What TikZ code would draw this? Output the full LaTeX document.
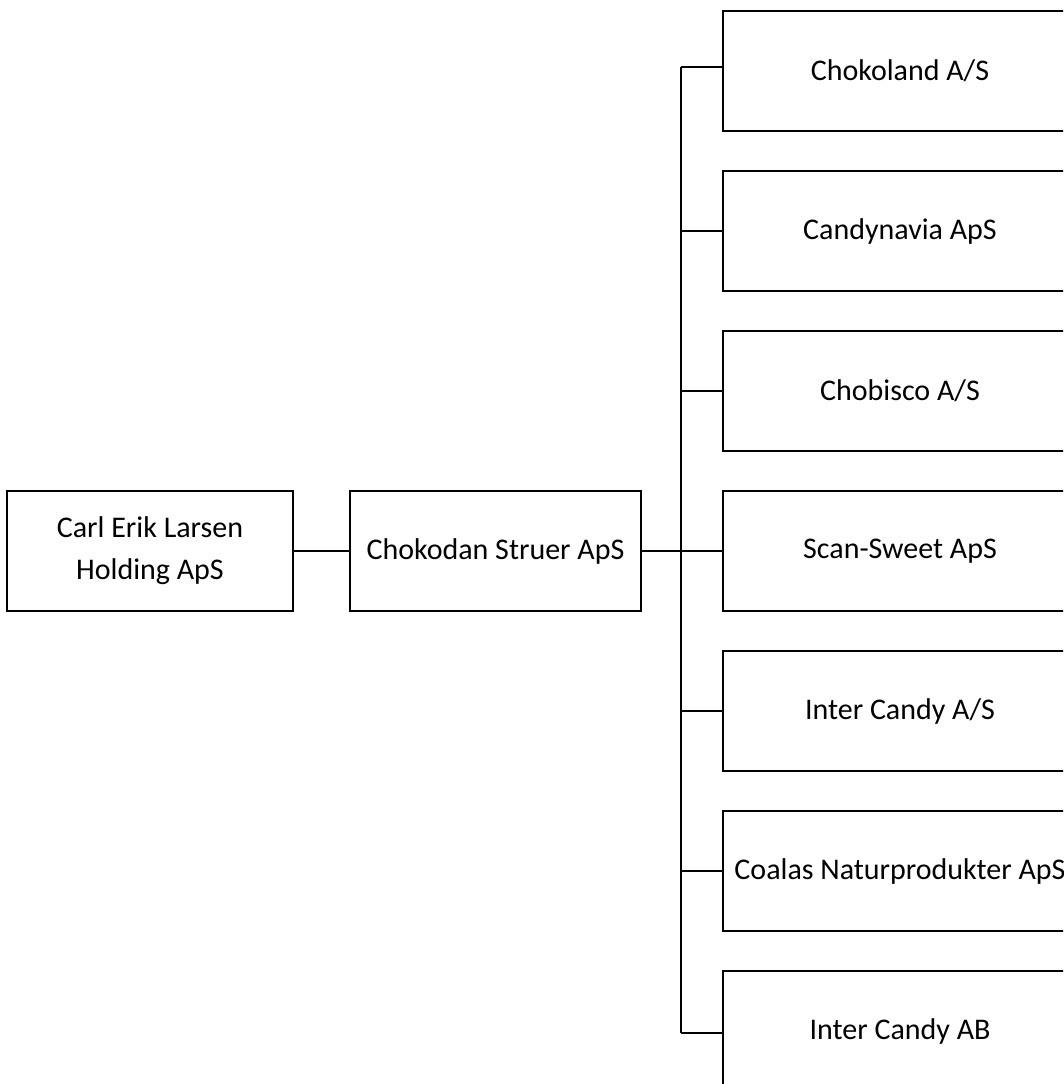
\documentclass[tikz,border=0pt]{standalone}
\usepackage{fontspec}
\setmainfont{Carlito}
\usepackage{tikz}
\usetikzlibrary{calc}

\begin{document}
\begin{tikzpicture}[x=1pt, y=-1pt,
	firm/.style={draw, line width=2.4pt, inner sep=0pt, align=center,
		font=\fontsize{30}{42}\selectfont},
	holdbox/.style={firm, minimum width=286pt, minimum height=120pt},
	subbox/.style={firm, minimum width=291pt, minimum height=120pt},
	childbox/.style={firm, minimum width=354pt, minimum height=120pt},
	link/.style={line width=1.6pt}]

	\useasboundingbox (0,0) rectangle (1063,1084);
	\clip (0,0) rectangle (1063,1084);

	\node[holdbox] (carl) at (150,551) {Carl Erik Larsen\\Holding ApS};
	\node[subbox] (struer) at (495.5,551) {Chokodan Struer ApS};

	\node[childbox] (choko) at (900,71) {Chokoland A/S};
	\node[childbox] (candy) at (900,231) {Candynavia ApS};
	\node[childbox] (bisco) at (900,391) {Chobisco A/S};
	\node[childbox] (scan) at (900,551) {Scan-Sweet ApS};
	\node[childbox] (icas) at (900,711) {Inter Candy A/S};
	\node[childbox] (coala) at (900,871) {Coalas Naturprodukter ApS};
	\node[childbox] (icab) at (900,1031) {Inter Candy AB};

	\coordinate (ttop) at (681,67);
	\coordinate (tbot) at (681,1033);

	\draw[link] (carl) -- (struer);
	\draw[link] (struer) -- (scan);
	\draw[link] (ttop) -- (tbot);

	\draw[link] (ttop) -- (ttop -| choko.west);
	\draw[link] (ttop |- candy) -- (candy);
	\draw[link] (ttop |- bisco) -- (bisco);
	\draw[link] (ttop |- icas) -- (icas);
	\draw[link] (ttop |- coala) -- (coala);
	\draw[link] (tbot) -- (tbot -| icab.west);

\end{tikzpicture}
\end{document}
